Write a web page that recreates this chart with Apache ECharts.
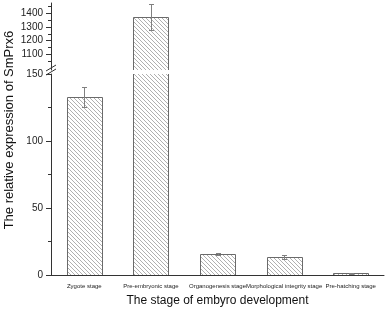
<!DOCTYPE html>
<html><head><meta charset="utf-8">
<script src="https://cdn.jsdelivr.net/npm/echarts@6/dist/echarts.min.js"></script>
<style>html,body{margin:0;padding:0;background:#fff}#c{width:387px;height:313px}</style>
</head><body><div id="c"></div>
<script>
const categories = ['Zygote stage','Pre-embryonic stage','Organogenesis stage','Morphological integrity stage','Pre-hatching stage'];
const values = [133, 1370, 15.4, 13.4, 1.2];
const errors = [7.5, 95, 0.8, 1.3, 0.3];
const upperMajorTicks = [1100, 1200, 1300, 1400];
const upperMinorTicks = [1050, 1150, 1250, 1350, 1450];

const FONT = 'Liberation Sans, Arial, sans-serif';
// hatch pattern
const pc = document.createElement('canvas');
pc.width = 8; pc.height = 8;
const ctx = pc.getContext('2d');
ctx.fillStyle = '#fff'; ctx.fillRect(0,0,8,8);
ctx.strokeStyle = '#b0b0b0'; ctx.lineWidth = 1;
for (let k = -8; k <= 8; k += 4) { ctx.beginPath(); ctx.moveTo(0, k); ctx.lineTo(8, 8 + k); ctx.stroke(); }
const hatch = {image: pc, repeat: 'repeat'};

const barData = values.map((v, i) => [i, v]);
const upperErr = [], lowerErr = [];
values.forEach((v, i) => {
  const e = [i, v - errors[i], v + errors[i]];
  if (v > 1000) upperErr.push(e); else lowerErr.push(e);
});

function barRender(params, api) {
  const i = api.value(0), v = api.value(1);
  const band = api.size([1, 0])[0];
  const w = Math.round(band * 0.52);
  const top = api.coord([i, v]);
  const base = api.coord([i, 0]);
  const x0 = Math.round(top[0] - w / 2) + 0.5, x1 = x0 + w;
  const ty = Math.round(top[1]) + 0.5;
  return {type: 'group', children: [
    {type: 'rect', shape: {x: x0, y: ty, width: w, height: base[1] - ty}, style: {fill: hatch}},
    {type: 'polyline', shape: {points: [[x0, base[1]], [x0, ty], [x1, ty], [x1, base[1]]]},
      style: {stroke: '#6a6a6a', fill: null, lineWidth: 1}}
  ]};
}

function errRender(params, api) {
  const x = api.value(0), lo = api.value(1), hi = api.value(2);
  const a = api.coord([x, hi]), b = api.coord([x, lo]);
  const w = 5, st = {stroke: '#808080', lineWidth: 1};
  const cx = Math.round(a[0]) + 0.5;
  const ya = Math.round(a[1]) + 0.5, yb = Math.round(b[1]) + 0.5;
  return {type: 'group', children: [
    {type: 'line', shape: {x1: cx, y1: ya, x2: cx, y2: yb}, style: st},
    {type: 'line', shape: {x1: cx - w/2, y1: ya, x2: cx + w/2, y2: ya}, style: st},
    {type: 'line', shape: {x1: cx - w/2, y1: yb, x2: cx + w/2, y2: yb}, style: st}
  ]};
}

const axisColor = '#333';
const chart = echarts.init(document.getElementById('c'), null, {renderer: 'canvas'});
chart.setOption({
  animation: false,
  textStyle: {fontFamily: FONT},
  grid: [
    {left: 51, right: 3, top: 3, bottom: 243},
    {left: 51, right: 3, top: 74, bottom: 38}
  ],
  xAxis: [
    {type: 'category', gridIndex: 0, data: categories, show: false},
    {type: 'category', gridIndex: 1, data: categories,
      axisLine: {lineStyle: {color: axisColor, width: 1}},
      axisTick: {alignWithLabel: true, length: 5, lineStyle: {color: axisColor}},
      axisLabel: {interval: 0, fontSize: 6, color: '#222', margin: 8, fontFamily: FONT},
      name: 'The stage of embyro development', nameLocation: 'middle', nameGap: 20,
      nameTextStyle: {fontSize: 12, color: '#111', fontFamily: FONT}},
    {type: 'category', gridIndex: 1, data: categories,
      axisLine: {show: false}, axisLabel: {show: false},
      axisTick: {length: 3, lineStyle: {color: axisColor}}}
  ],
  yAxis: [
    {type: 'value', gridIndex: 0, min: 985, max: 1475,
      axisLine: {show: true, lineStyle: {color: axisColor}},
      axisTick: {show: true, length: 5, customValues: upperMajorTicks, lineStyle: {color: axisColor}},
      axisLabel: {customValues: upperMajorTicks, fontSize: 10, color: '#222', margin: 8, formatter: v => String(v)},
      splitLine: {show: false}},
    {type: 'value', gridIndex: 0, min: 985, max: 1475, position: 'left',
      axisLine: {show: false},
      axisTick: {show: true, length: 3, customValues: upperMinorTicks, lineStyle: {color: axisColor}},
      axisLabel: {show: false}, splitLine: {show: false}},
    {type: 'value', gridIndex: 1, min: 0, max: 150, interval: 50,
      axisLine: {show: true, lineStyle: {color: axisColor}},
      axisTick: {show: true, length: 5, lineStyle: {color: axisColor}},
      minorTick: {show: true, splitNumber: 2, length: 3, lineStyle: {color: axisColor}},
      axisLabel: {fontSize: 10, color: '#222', margin: 8, formatter: v => String(v)},
      splitLine: {show: false}, minorSplitLine: {show: false}}
  ],
  graphic: [
    {type: 'line', shape: {x1: 46, y1: 71, x2: 56, y2: 65}, style: {stroke: '#333', lineWidth: 1}, z: 100},
    {type: 'line', shape: {x1: 46, y1: 75, x2: 56, y2: 69}, style: {stroke: '#333', lineWidth: 1}, z: 100},
    {type: 'text', x: 9, y: 130, rotation: Math.PI / 2, z: 100,
      style: {text: 'The relative expression of SmPrx6', font: '13px ' + FONT, fill: '#111', textAlign: 'center', textVerticalAlign: 'middle'}}
  ],
  series: [
    {type: 'custom', xAxisIndex: 0, yAxisIndex: 0, data: barData, renderItem: barRender, clip: true, z: 2},
    {type: 'custom', xAxisIndex: 1, yAxisIndex: 2, data: barData, renderItem: barRender, clip: true, z: 2},
    {type: 'custom', xAxisIndex: 0, yAxisIndex: 0, data: upperErr, renderItem: errRender, z: 10, clip: false},
    {type: 'custom', xAxisIndex: 1, yAxisIndex: 2, data: lowerErr, renderItem: errRender, z: 10}
  ]
});
</script></body></html>
